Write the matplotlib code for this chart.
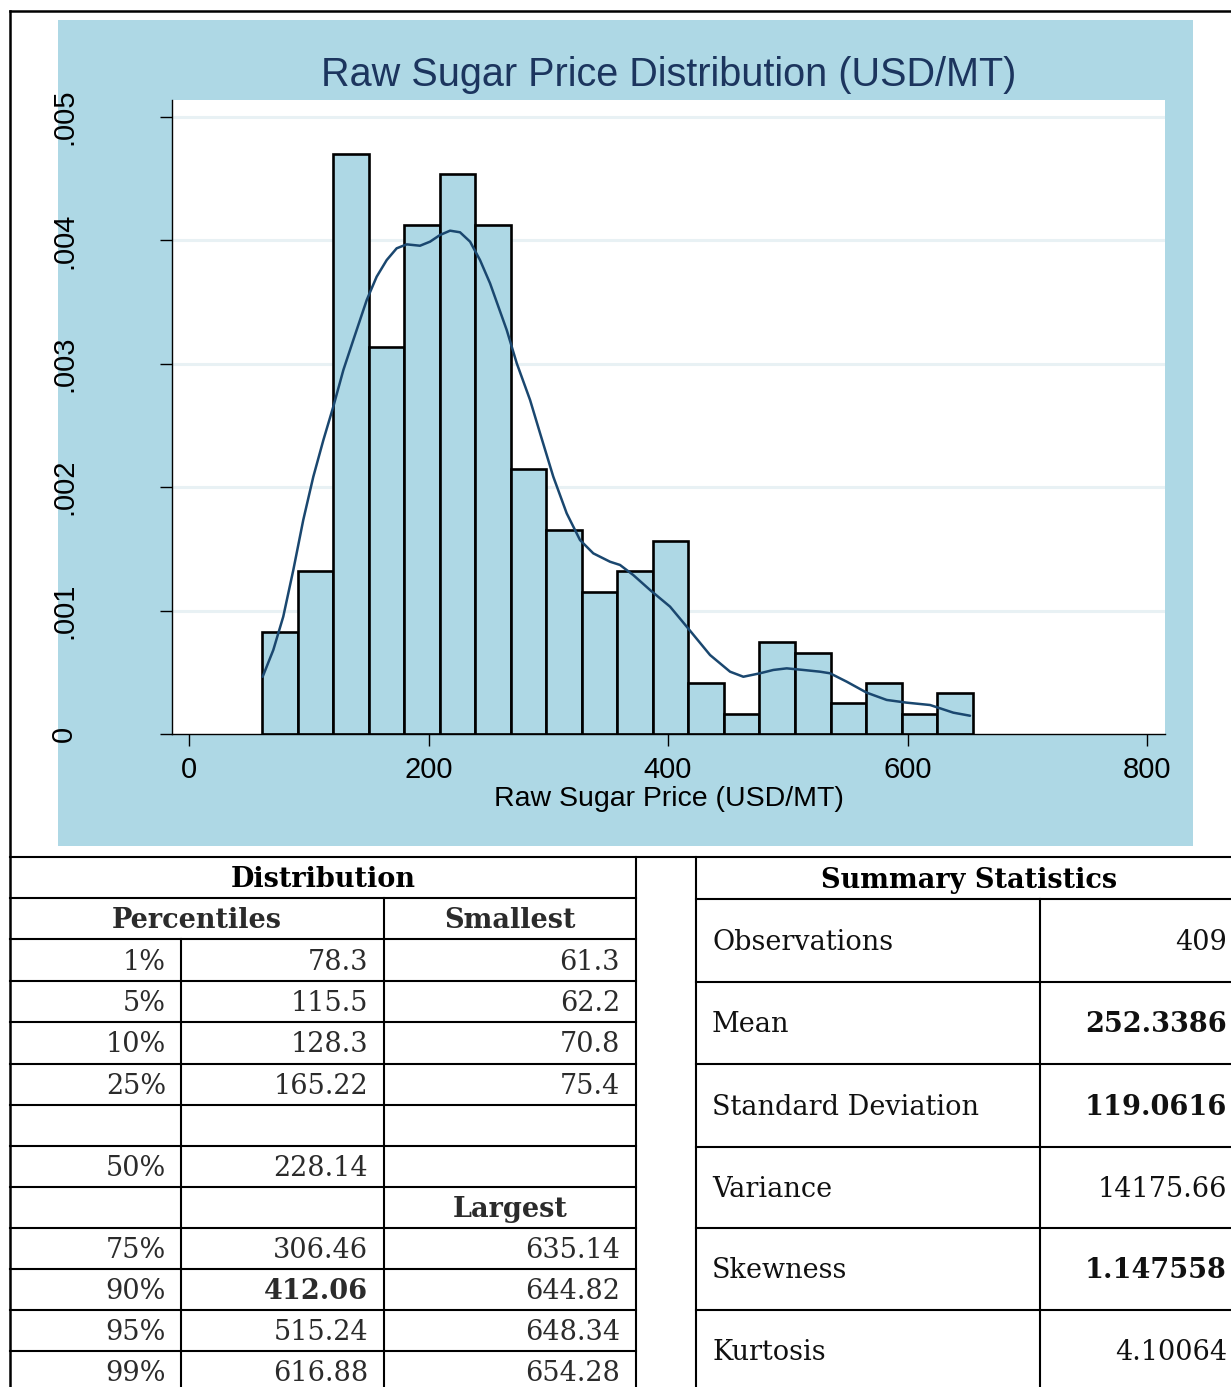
import numpy as np
import matplotlib
matplotlib.use("Agg")
import matplotlib.pyplot as plt
from matplotlib.patches import Rectangle
from matplotlib.ticker import FuncFormatter

# --- histogram data (20 equal-width bins between min and max price) ---
price_min = 61.3
price_max = 654.28
n_obs = 409
bin_counts = [10, 16, 57, 38, 50, 55, 50, 26, 20, 14,
              16, 19, 5, 2, 9, 8, 3, 5, 2, 4]

# kernel density estimate (price, density)
kde_x = [61.5, 70.4, 78.7, 87.1, 95.4, 103.8, 112.2, 120.5, 128.9, 137.2,
         148.4, 156.7, 165.1, 173.4, 181.8, 192.9, 201.3, 209.6, 218.0, 226.3,
         234.7, 243.0, 251.4, 265.3, 273.7, 284.8, 293.1, 304.2, 315.4, 326.5,
         337.6, 351.6, 359.9, 371.0, 385.0, 401.7, 415.6, 435.1, 451.8, 462.9,
         476.8, 487.9, 499.1, 513.0, 526.9, 535.3, 549.2, 565.9, 582.6, 599.3,
         618.8, 638.2, 652.2]
kde_y = [0.000464, 0.000681, 0.000951, 0.001329, 0.001734, 0.002085, 0.002382,
         0.002653, 0.002950, 0.003193, 0.003517, 0.003706, 0.003841, 0.003936,
         0.003968, 0.003957, 0.003990, 0.004044, 0.004079, 0.004066, 0.003990,
         0.003841, 0.003652, 0.003274, 0.003004, 0.002707, 0.002439, 0.002085,
         0.001788, 0.001572, 0.001464, 0.001396, 0.001370, 0.001288, 0.001167,
         0.001032, 0.000870, 0.000640, 0.000505, 0.000464, 0.000492, 0.000519,
         0.000532, 0.000519, 0.000505, 0.000492, 0.000424, 0.000335, 0.000276,
         0.000254, 0.000235, 0.000173, 0.000148]

x_ticks = [0, 200, 400, 600, 800]
y_ticks = [0, 0.001, 0.002, 0.003, 0.004, 0.005]

# --- distribution table ---
pct_low = ["1%", "5%", "10%", "25%"]
pct_low_values = ["78.3", "115.5", "128.3", "165.22"]
smallest = ["61.3", "62.2", "70.8", "75.4"]
median_label = "50%"
median_value = "228.14"
pct_high = ["75%", "90%", "95%", "99%"]
pct_high_values = ["306.46", "412.06", "515.24", "616.88"]
largest = ["635.14", "644.82", "648.34", "654.28"]
bold_pct_values = {"412.06"}

# --- summary statistics table ---
stat_names = ["Observations", "Mean", "Standard Deviation",
              "Variance", "Skewness", "Kurtosis"]
stat_values = ["409", "252.3386", "119.0616", "14175.66", "1.147558", "4.10064"]
bold_stats = {"Mean", "Standard Deviation", "Skewness"}

LIGHTBLUE = "#aed8e5"
NAVY = "#1a476f"
W, H = 1231, 1387

fig = plt.figure(figsize=(W / 100, H / 100), dpi=100)

# background layer in pixel coordinates: panel, frame and tables
bg = fig.add_axes([0, 0, 1, 1], zorder=0)
bg.set_xlim(0, W)
bg.set_ylim(H, 0)
bg.axis("off")
bg.add_patch(Rectangle((58, 20), 1135, 826, color=LIGHTBLUE, lw=0))

line_kw = dict(color="black", lw=1.5, solid_capstyle="projecting", clip_on=False)
bg.plot([10, 10], [11, H], **dict(line_kw, lw=1.8))
bg.plot([10, W], [11, 11], **dict(line_kw, lw=1.8))

# left table grid
left_rows = [857, 898, 939, 981, 1022, 1064, 1105, 1146, 1187, 1228, 1269, 1310, 1351, 1392]
bg.plot([10, W], [857, 857], **line_kw)
for y in left_rows[1:-1]:
    bg.plot([10, 636], [y, y], **line_kw)
bg.plot([181, 181], [939, H], **line_kw)
bg.plot([384, 384], [898, H], **line_kw)
bg.plot([636, 636], [857, H], **line_kw)

# right table grid
right_rows = [857, 899, 982, 1064, 1147, 1228, 1310, 1392]
for y in right_rows[1:-1]:
    bg.plot([696, W], [y, y], **line_kw)
bg.plot([696, 696], [857, H], **line_kw)
bg.plot([1040, 1040], [899, H], **line_kw)

serif = "DejaVu Serif"
tcol = "#2b2b2b"
fs = 19.5


def mid(rows, i):
    return (rows[i] + rows[i + 1]) / 2 + 2


bg.text(323, mid(left_rows, 0), "Distribution", ha="center", va="center",
        fontsize=fs, fontweight="bold", family=serif, color="black")
bg.text(197, mid(left_rows, 1), "Percentiles", ha="center", va="center",
        fontsize=fs, fontweight="bold", family=serif, color=tcol)
bg.text(510, mid(left_rows, 1), "Smallest", ha="center", va="center",
        fontsize=fs, fontweight="bold", family=serif, color=tcol)
bg.text(510, mid(left_rows, 8), "Largest", ha="center", va="center",
        fontsize=fs, fontweight="bold", family=serif, color=tcol)


def table_row(i, label, value, extreme=""):
    y = mid(left_rows, i)
    bg.text(166, y, label, ha="right", va="center", fontsize=fs, family=serif, color=tcol)
    bg.text(368, y, value, ha="right", va="center", fontsize=fs, family=serif, color=tcol,
            fontweight="bold" if value in bold_pct_values else "normal")
    bg.text(620, y, extreme, ha="right", va="center", fontsize=fs, family=serif, color=tcol)


for k in range(4):
    table_row(2 + k, pct_low[k], pct_low_values[k], smallest[k])
table_row(7, median_label, median_value)
for k in range(4):
    table_row(9 + k, pct_high[k], pct_high_values[k], largest[k])

bg.text(969, mid(right_rows, 0), "Summary Statistics", ha="center", va="center",
        fontsize=fs, fontweight="bold", family=serif, color="black")
for k, (name, val) in enumerate(zip(stat_names, stat_values)):
    y = mid(right_rows, k + 1)
    weight = "bold" if name in bold_stats else "normal"
    bg.text(712, y, name, ha="left", va="center", fontsize=fs, family=serif, color="#111111")
    bg.text(1227, y, val, ha="right", va="center", fontsize=fs, family=serif,
            color="#111111", fontweight=weight)

# --- histogram with kernel density overlay ---
ax = fig.add_axes([172 / W, 1 - 734 / H, (1165 - 172) / W, (734 - 100) / H], zorder=1)
ax.set_facecolor("white")

edges = np.linspace(price_min, price_max, len(bin_counts) + 1)
centers = (edges[:-1] + edges[1:]) / 2
ax.hist(centers, bins=edges, weights=bin_counts, density=True,
        color=LIGHTBLUE, edgecolor="black", linewidth=1.9)
ax.plot(kde_x, kde_y, color=NAVY, lw=1.8, solid_joinstyle="round", solid_capstyle="round")

ax.set_xlim(-14.2, 815)
ax.set_ylim(0, 0.005138)
ax.set_xticks(x_ticks)
ax.set_yticks(y_ticks)
ax.yaxis.set_major_formatter(FuncFormatter(lambda v, _: "0" if v == 0 else f"{v:.3f}".lstrip("0")))
ax.set_axisbelow(True)
ax.grid(axis="y", color="#e8f1f4", lw=2.2)
ax.yaxis.get_gridlines()[0].set_visible(False)

for side in ("top", "right"):
    ax.spines[side].set_visible(False)
for side in ("left", "bottom"):
    ax.spines[side].set_linewidth(1.0)

sans = "Liberation Sans"
ax.tick_params(axis="x", length=8.5, width=1.0, pad=7, labelsize=21)
ax.tick_params(axis="y", length=8.5, width=1.0, pad=59, labelsize=21, labelrotation=90)
for lab in ax.get_xticklabels() + ax.get_yticklabels():
    lab.set_family(sans)
for lab in ax.get_yticklabels():
    lab.set_va("center")

ax.set_xlabel("Raw Sugar Price (USD/MT)", fontsize=20.5, family=sans, labelpad=2)
ax.set_title("Raw Sugar Price Distribution (USD/MT)", fontsize=28.5, family=sans,
             color="#1c355e", pad=10)

fig.savefig("out.png", dpi=100)
